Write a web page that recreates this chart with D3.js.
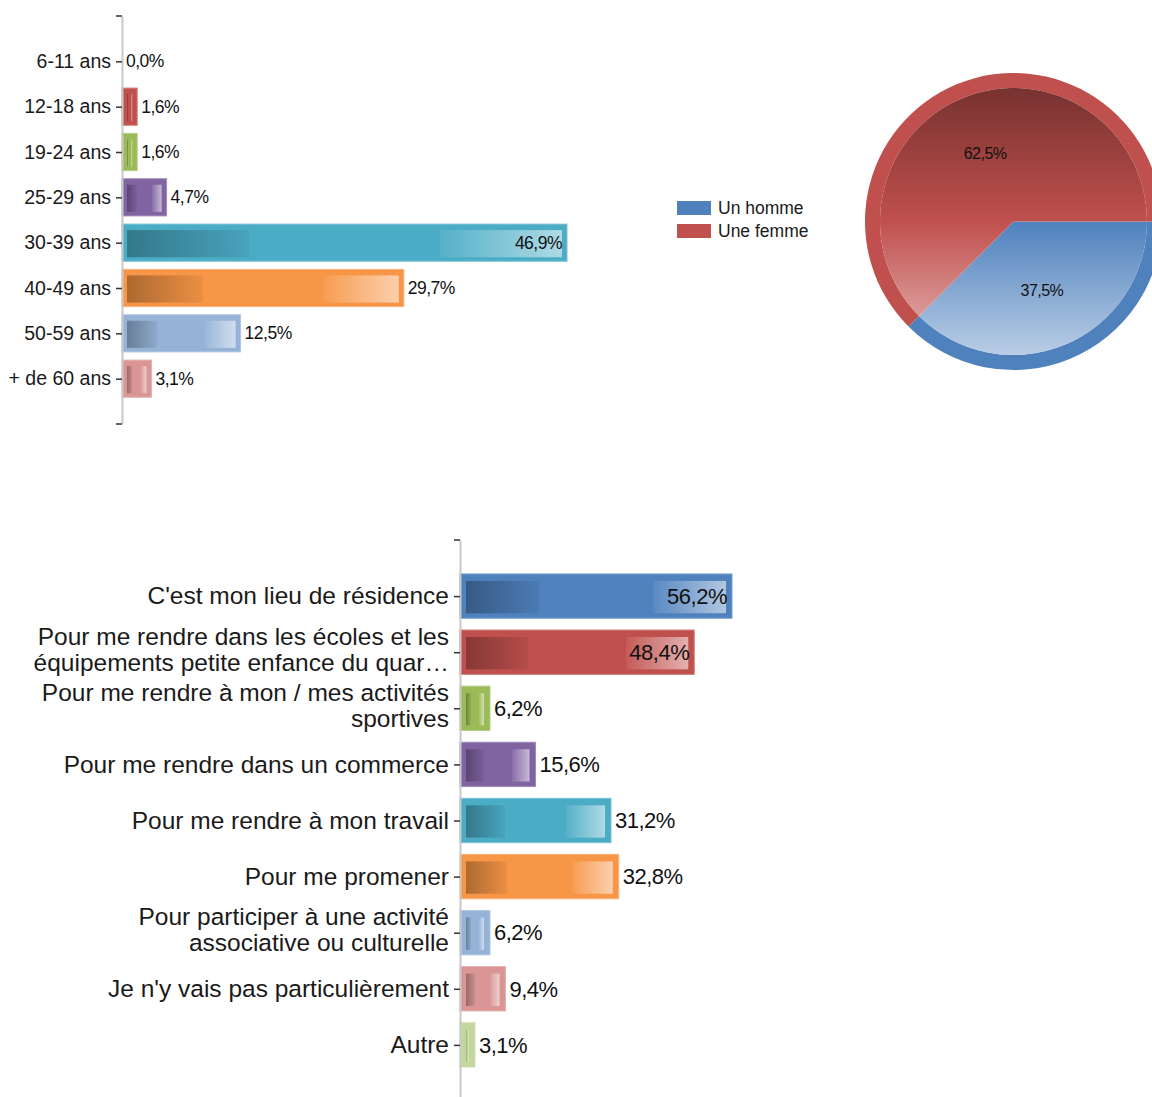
<!DOCTYPE html>
<html>
<head>
<meta charset="utf-8">
<script src="https://cdn.jsdelivr.net/npm/d3@7"></script>
<style>
  body { margin: 0; background: #fff; }
  svg { display: block; font-family: "Liberation Sans", Arial, sans-serif; }
</style>
</head>
<body>
<script>
// --- data ---
const ageLabels = ['6-11 ans', '12-18 ans', '19-24 ans', '25-29 ans', '30-39 ans', '40-49 ans', '50-59 ans', '+ de 60 ans'];
const ageValues = [0.0, 1.6, 1.6, 4.7, 46.9, 29.7, 12.5, 3.1];

const genderLabels = ['Un homme', 'Une femme'];
const genderValues = [37.5, 62.5];

const reasonLabels = [
  "C'est mon lieu de résidence",
  'Pour me rendre dans les écoles et les\néquipements petite enfance du quar…',
  'Pour me rendre à mon / mes activités\nsportives',
  'Pour me rendre dans un commerce',
  'Pour me rendre à mon travail',
  'Pour me promener',
  'Pour participer à une activité\nassociative ou culturelle',
  "Je n'y vais pas particulièrement",
  'Autre'
];
const reasonValues = [56.2, 48.4, 6.2, 15.6, 31.2, 32.8, 6.2, 9.4, 3.1];

const palette = ['#4f81bd', '#c0504d', '#9bbb59', '#8064a2', '#4bacc6', '#f79646', '#95b3d7', '#d99694', '#c3d69b'];

const fmt = v => v.toFixed(1).replace('.', ',') + '%';

const svg = d3.select('body').append('svg')
  .attr('width', 1152)
  .attr('height', 1097);

const defs = svg.append('defs');

// horizontal gradient for the inner part of each bar
palette.forEach((c, i) => {
  const dark = d3.interpolateRgb(c, '#000')(0.3);
  const dark2 = d3.interpolateRgb(c, '#000')(0.05);
  const light1 = d3.interpolateRgb(c, '#fff')(0.06);
  const light = d3.interpolateRgb(c, '#fff')(0.55);
  const gr = defs.append('linearGradient').attr('id', 'bar-' + i)
    .attr('x1', 0).attr('x2', 1).attr('y1', 0).attr('y2', 0);
  [[0, dark], [0.28, dark2], [0.28, c], [0.72, c], [0.72, light1], [1, light]]
    .forEach(([o, col]) => gr.append('stop').attr('offset', o).attr('stop-color', col));
});

function barChart(labels, values, o) {
  const g = svg.append('g');
  const y = d3.scalePoint().domain(labels).range(o.yRange).padding(1);
  const x = d3.scaleLinear().domain([0, d3.max(values)]).range(o.xRange);
  const h = y.step() * o.barRatio;
  const max = d3.max(values);

  const rows = g.selectAll('g.bar').data(labels).join('g').attr('class', 'bar');

  rows.each(function (lab, i) {
    const v = values[i];
    const w = x(v) - x(0);
    const row = d3.select(this);
    const top = y(lab) - h / 2;
    if (w > 0) {
      row.append('rect')
        .attr('x', x(0)).attr('y', top)
        .attr('width', w).attr('height', h)
        .attr('fill', palette[i])
        .attr('stroke', d3.interpolateRgb(palette[i], '#fff')(0.25))
        .attr('stroke-width', 1);
      const iw = Math.max(0, w - o.inset[1] - o.inset[3]);
      row.append('rect')
        .attr('x', x(0) + o.inset[3]).attr('y', top + o.inset[0])
        .attr('width', iw).attr('height', h - o.inset[0] - o.inset[2])
        .attr('fill', `url(#bar-${i})`);
    }
    const inside = v / max > 0.75;
    row.append('text')
      .attr('x', inside ? x(v) - 5 : x(v) + 4)
      .attr('y', y(lab))
      .attr('dy', '0.35em')
      .attr('text-anchor', inside ? 'end' : 'start')
      .attr('font-size', o.valueSize)
      .attr('letter-spacing', '-0.5px')
      .attr('fill', '#111')
      .text(fmt(v));
  });

  // axis
  const axis = g.append('g')
    .attr('transform', `translate(${o.xRange[0]},0)`)
    .call(d3.axisLeft(y).tickSize(6).tickSizeOuter(0).tickPadding(5));
  axis.select('.domain').attr('stroke', '#c8c8c8').attr('stroke-width', 2);
  axis.selectAll('.tick line').attr('stroke', '#333').attr('stroke-width', 1.5);
  axis.selectAll('.tick text')
    .attr('font-size', o.labelSize)
    .attr('font-family', '"Liberation Sans", Arial, sans-serif')
    .attr('fill', '#1a1a1a')
    .each(function (d) {
      const lines = d.split('\n');
      if (lines.length < 2) return;
      const t = d3.select(this).text(null);
      lines.forEach((ln, k) => {
        t.append('tspan')
          .attr('x', -11)
          .attr('dy', k === 0 ? -(lines.length - 1) * o.lineH / 2 - 3 + 0.32 * o.labelSize : o.lineH)
          .text(ln);
      });
    });
  // end ticks of the axis
  o.yRange.forEach(yy => {
    if (yy > 1097) return;
    axis.append('line').attr('x1', -6).attr('x2', 0).attr('y1', yy).attr('y2', yy)
      .attr('stroke', '#333').attr('stroke-width', 1.5);
  });
}

barChart(ageLabels, ageValues, {
  yRange: [16, 424], xRange: [122, 567], barRatio: 0.82,
  inset: [6, 5, 4, 5], valueSize: 17.5, labelSize: 19.5, lineH: 22
});

barChart(reasonLabels, reasonValues, {
  yRange: [540, 1101], xRange: [460, 732], barRatio: 0.79,
  inset: [7, 6, 5, 6], valueSize: 22, labelSize: 24.5, lineH: 26
});

// --- legend ---
const legend = svg.append('g');
genderLabels.forEach((lab, i) => {
  legend.append('rect')
    .attr('x', 677).attr('y', 201 + i * 23)
    .attr('width', 34).attr('height', 14)
    .attr('fill', palette[i]);
  legend.append('text')
    .attr('x', 718).attr('y', 208 + i * 23).attr('dy', '0.35em')
    .attr('font-size', 17.5).attr('fill', '#1a1a1a')
    .text(lab);
});

// --- pie ---
const R = 148.5, ring = 15;
const pg = svg.append('g').attr('transform', 'translate(1013.5,221.5)');

palette.slice(0, 2).forEach((c, i) => {
  const gr = defs.append('linearGradient').attr('id', 'pie-' + i)
    .attr('gradientUnits', 'userSpaceOnUse')
    .attr('x1', 0).attr('x2', 0).attr('y1', -(R - ring)).attr('y2', R - ring);
  gr.append('stop').attr('offset', 0).attr('stop-color', d3.interpolateRgb(c, '#000')(0.38));
  gr.append('stop').attr('offset', 0.5).attr('stop-color', c);
  gr.append('stop').attr('offset', 1).attr('stop-color', d3.interpolateRgb(c, '#fff')(0.6));
});

const pie = d3.pie().sort(null).startAngle(Math.PI / 2).endAngle(Math.PI / 2 + 2 * Math.PI);
const slices = pie(genderValues);
const ringArc = d3.arc().innerRadius(R - ring).outerRadius(R);
const innerArc = d3.arc().innerRadius(0).outerRadius(R - ring);
const labelArc = d3.arc().innerRadius(0).outerRadius(R);

pg.selectAll('path.ring').data(slices).join('path')
  .attr('class', 'ring').attr('d', ringArc).attr('fill', (d, i) => palette[i]);
pg.selectAll('path.inner').data(slices).join('path')
  .attr('class', 'inner').attr('d', innerArc).attr('fill', (d, i) => `url(#pie-${i})`);
pg.selectAll('text').data(slices).join('text')
  .attr('transform', d => `translate(${labelArc.centroid(d)})`)
  .attr('text-anchor', 'middle').attr('dy', '0.35em')
  .attr('font-size', 16).attr('letter-spacing', '-0.5px').attr('fill', '#111')
  .text(d => fmt(d.data));
</script>
</body>
</html>
